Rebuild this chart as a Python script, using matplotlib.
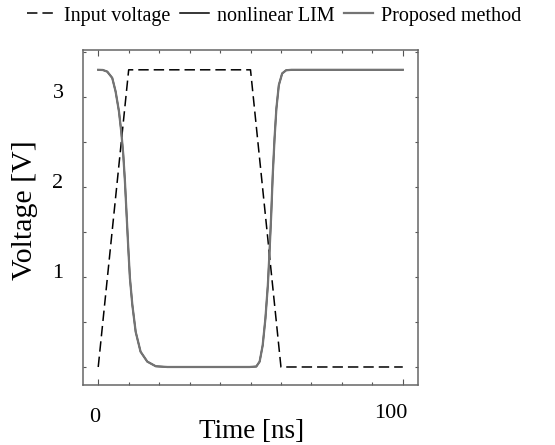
import matplotlib
matplotlib.use("Agg")
import matplotlib.pyplot as plt
from matplotlib.ticker import MultipleLocator, FixedLocator, NullFormatter

plt.rcParams['font.family'] = ['Liberation Serif', 'DejaVu Serif']
plt.rcParams['lines.scale_dashes'] = False

# Input voltage (ramp pulse)
t_in = [0, 10, 50, 60, 100]
v_in = [0.0, 3.3, 3.3, 0.0, 0.0]

# Output (nonlinear LIM / proposed method)
t_out = [0, 1.5, 2.96, 4.6, 5.7, 6.8, 7.57, 8.22, 8.77, 9.32, 9.87, 10.4, 11.2, 12.3, 13.9, 16.1, 18.9, 22.7,
         49.7, 51.9, 53.0, 54.0, 54.9, 55.7, 56.25, 56.8, 57.3, 57.9, 58.5, 59.3, 60.4, 61.7, 63.5, 100]
v_out = [3.3, 3.298, 3.28, 3.21, 3.06, 2.84, 2.61, 2.36, 2.06, 1.69, 1.32, 0.99, 0.69, 0.39, 0.17, 0.06, 0.008, 0.0,
         0.0, 0.005, 0.06, 0.24, 0.54, 0.91, 1.28, 1.69, 2.13, 2.54, 2.87, 3.13, 3.26, 3.295, 3.3, 3.3]

x_tick_vals = [0, 100]
x_tick_labels = ['0', '100']
y_tick_vals = [1, 2, 3]
y_tick_labels = ['1', '2', '3']

fig = plt.figure(figsize=(5.55, 4.45), dpi=100)
ax = fig.add_axes([83/555, 1-385/445, (418-83)/555, (385-50)/445])

l1, = ax.plot(t_in, v_in, color='black', lw=1.1, dashes=(7.5, 3.6), label='Input voltage')
l2, = ax.plot(t_out, v_out, color='black', lw=1.1, label='nonlinear LIM')
l3, = ax.plot(t_out, v_out, color='#747474', lw=1.6, label='Proposed method')

ax.set_xlim(-5, 105)
ax.set_ylim(-0.2, 3.52)

ax.xaxis.set_major_locator(FixedLocator(x_tick_vals))
ax.xaxis.set_minor_locator(MultipleLocator(10))
ax.yaxis.set_major_locator(FixedLocator(y_tick_vals))
ax.yaxis.set_minor_locator(MultipleLocator(0.5))
ax.xaxis.set_major_formatter(NullFormatter())
ax.yaxis.set_major_formatter(NullFormatter())
ax.tick_params(which='both', direction='in', top=True, right=True, color='#555555', width=0.8)
ax.tick_params(axis='x', which='major', length=4.5)
ax.tick_params(axis='x', which='minor', length=2.2)
ax.tick_params(axis='y', which='both', length=2.5)
for s in ax.spines.values():
    s.set_color('#666666')
    s.set_linewidth(1.1)

# tick labels (offset as in the reference)
x_offsets = [(-4, -32), (-12, -28)]
for v, s, (dx, dy) in zip(x_tick_vals, x_tick_labels, x_offsets):
    ax.annotate(s, xy=(v, 0), xycoords=('data', 'axes fraction'), xytext=(dx, dy),
                textcoords='offset pixels', ha='center', va='center', fontsize=16)
for v, s in zip(y_tick_vals, y_tick_labels):
    ax.annotate(s, xy=(0, v), xycoords=('axes fraction', 'data'), xytext=(-25, 3),
                textcoords='offset pixels', ha='center', va='center', fontsize=16)

fig.text(251.5/555, 1-431/445, 'Time [ns]', ha='center', va='center', fontsize=19.5)
fig.text(25/555, 1-210/445, 'Voltage [V]', ha='center', va='center', rotation=90, fontsize=21.5)

fig.legend(handles=[l1, l2, l3], loc='center left', bbox_to_anchor=(27/555, 1-16/445), ncol=3,
           frameon=False, fontsize=14.5, handlelength=1.45, handletextpad=0.4, columnspacing=0.45,
           borderpad=0, borderaxespad=0)

fig.savefig('out.png', dpi=100)
